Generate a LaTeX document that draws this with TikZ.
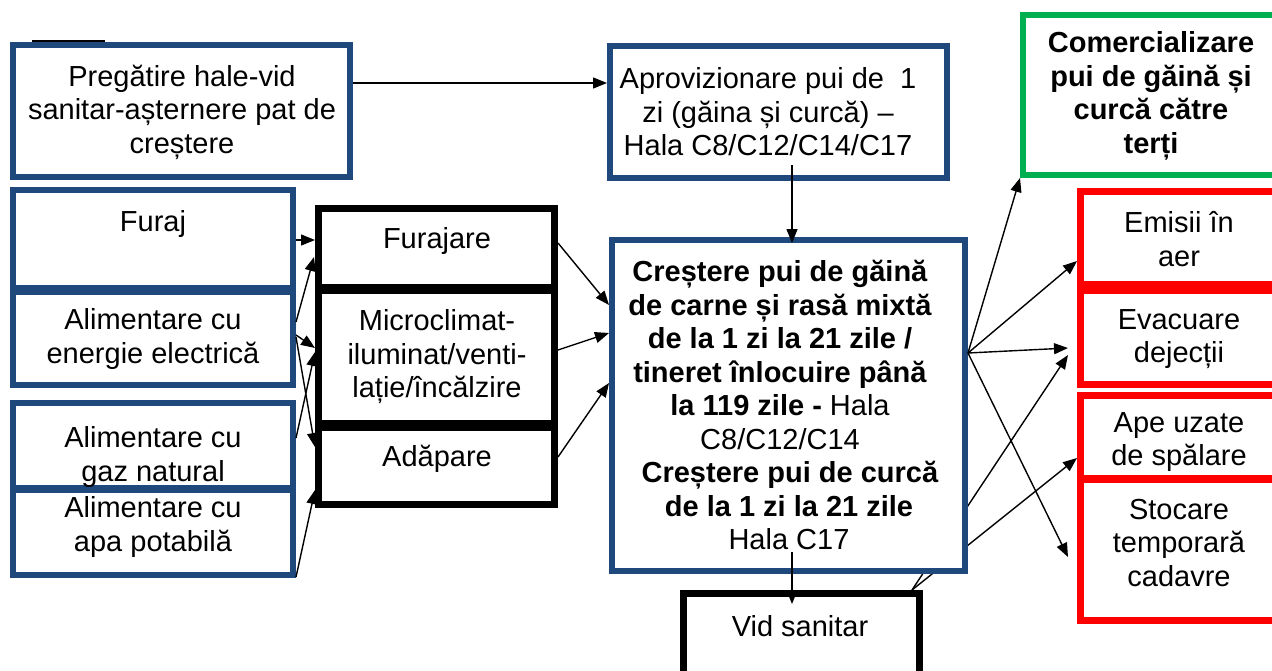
\documentclass[tikz,border=0pt]{standalone}
\usepackage{fontspec}
\setmainfont{Liberation Sans}
\usetikzlibrary{arrows.meta,calc}
\definecolor{boxblue}{RGB}{31,73,125}
\definecolor{boxgreen}{RGB}{0,176,80}
\definecolor{boxred}{RGB}{255,0,0}
\begin{document}
\begin{tikzpicture}[x=1pt,y=-1pt,
  every node/.style={font=\fontsize{29}{33.5}\selectfont},
  box/.style={draw, fill=white, rectangle, inner sep=0pt, anchor=north west},
  bluebox/.style={box, draw=boxblue, line width=6pt},
  blackbox/.style={box, draw=black, line width=7pt},
  redbox/.style={box, draw=boxred, line width=7pt},
  greenbox/.style={box, draw=boxgreen, line width=6pt},
  txt/.style={align=center, inner sep=0pt},
  conn/.style={line width=1.4pt, -{Triangle[length=14pt,width=11pt]}},
]
\clip (0,0) rectangle (1272,670);
\fill[white] (0,0) rectangle (1272,670);

\draw[line width=2pt] (32,40.5) -- (105,40.5);

% top row
\node[bluebox, minimum width=337pt, minimum height=132pt] (preg) at (10,42) {};
\node[txt] (tpreg) at (182,112) {Pregătire hale-vid\\sanitar-așternere pat de\\creștere};
\node[bluebox, minimum width=337pt, minimum height=132pt] (aprov) at (607,43) {};
\node[txt] (taprov) at (768,112) {Aprovizionare pui de\ \ 1\\zi (găina și curcă) –\\Hala C8/C12/C14/C17};
\node[greenbox, minimum width=270pt, minimum height=160pt] (comerc) at (1020,12) {};
\node[txt, font=\fontsize{29}{33.5}\selectfont\bfseries] (tcomerc) at (1151,96) {Comercializare\\pui de găină și\\curcă către\\terți};

% left column
\node[bluebox, minimum width=280pt, minimum height=98pt] (furaj) at (10,187) {};
\node[txt] (tfuraj) at (153,224) {Furaj};
\node[bluebox, minimum width=280pt, minimum height=93pt] (energ) at (10,289) {};
\node[txt] (tenerg) at (153,339) {Alimentare cu\\energie electrică};
\node[bluebox, minimum width=280pt, minimum height=85pt] (gaz) at (10,400) {};
\node[txt] (tgaz) at (153,457) {Alimentare cu\\gaz natural};
\node[bluebox, minimum width=280pt, minimum height=85pt] (apa) at (10,487) {};
\node[txt] (tapa) at (153,527) {Alimentare cu\\apa potabilă};

% middle column
\node[blackbox, minimum width=236pt, minimum height=79pt] (furajare) at (315,205) {};
\node[txt] (tfurajare) at (437,241) {Furajare};
\node[blackbox, minimum width=236pt, minimum height=133pt] (micro) at (315,286.5) {};
\node[txt] (tmicro) at (437,357) {Microclimat-\\iluminat/venti-\\lație/încălzire};
\node[blackbox, minimum width=236pt, minimum height=77pt] (adap) at (315,423.5) {};
\node[txt] (tadap) at (437,459) {Adăpare};

% right column
\node[redbox, minimum width=210pt, minimum height=93pt] (emisii) at (1077,187.5) {};
\node[txt] (temisii) at (1179,239) {Emisii în\\aer};
\node[redbox, minimum width=210pt, minimum height=94pt] (evac) at (1077,286.5) {};
\node[txt] (tevac) at (1179,339) {Evacuare\\dejecții};
\node[redbox, minimum width=210pt, minimum height=83pt] (ape) at (1077,391.5) {};
\node[txt] (tape) at (1179,442) {Ape uzate\\de spălare};
\node[redbox, minimum width=210pt, minimum height=141pt] (stoc) at (1077,475.5) {};
\node[txt] (tstoc) at (1179,543) {Stocare\\temporară\\cadavre};

% bottom
\node[blackbox, minimum width=236pt, minimum height=100pt] (vid) at (680,590) {};
\node[txt] (tvid) at (800,626) {Vid sanitar};

% arrows passing behind the central box
\coordinate (V) at ($(vid.north east)+(-11,0)$);
\draw[conn] (V) -- ($(evac.north west)+(-9,68.5)$);
\draw[conn] (V) -- ($(ape.north west)+(0,66.5)$);

% central box
\node[bluebox, minimum width=353pt, minimum height=331pt] (center) at (609,237) {};
\node[txt] (tcenter) at (780,405) {\textbf{Creștere pui de găină}\\\textbf{de carne și rasă mixtă}\\\textbf{de la 1 zi la 21 zile /}\\\textbf{tineret înlocuire până}\\\textbf{la 119 zile -} Hala\\C8/C12/C14\\\hspace*{20pt}\textbf{Creștere pui de curcă}\\\hspace*{18pt}\textbf{de la 1 zi la 21 zile}\\\hspace*{18pt}Hala C17};

% connectors
\draw[conn] ($(preg.north east)+(0,41)$) -- ($(aprov.north west)+(0,40)$);
\draw[conn] ($(aprov.south west)+(185,-16)$) -- ($(center.north west)+(183,6)$);

\draw[conn] ($(furaj.north east)+(0,53)$) -- ($(furajare.north west)+(0,35)$);
\draw[conn] ($(energ.north east)+(0,33)$) -- ($(furajare.north west)+(-1,52)$);
\draw[conn] ($(energ.north east)+(0,46)$) -- ($(micro.north west)+(0,61.5)$);
\draw[conn] ($(energ.north east)+(0,48)$) -- ($(adap.north west)+(0,23.5)$);
\draw[conn] ($(gaz.north east)+(0,38)$) -- ($(micro.north west)+(0,65.5)$);
\draw[conn] ($(apa.south east)+(0,-1)$) -- ($(adap.north west)+(0,66.5)$);

\draw[conn] ($(furajare.north east)+(0,38)$) -- ($(center.north west)+(0,68)$);
\draw[conn] ($(micro.north east)+(0,63.5)$) -- ($(center.north west)+(0,96)$);
\draw[conn] ($(adap.north east)+(0,33.5)$) -- ($(center.north west)+(0,146)$);

\coordinate (S) at ($(center.north east)+(0,116)$);
\draw[conn] (S) -- (comerc.south west);
\draw[conn] (S) -- ($(emisii.north west)+(0,73.5)$);
\draw[conn] (S) -- ($(evac.north west)+(-9,61.5)$);
\draw[conn] (S) -- ($(stoc.north west)+(-9,81.5)$);

\draw[conn] ($(center.south west)+(183,-22)$) -- ($(vid.north west)+(112,14)$);
\end{tikzpicture}
\end{document}
